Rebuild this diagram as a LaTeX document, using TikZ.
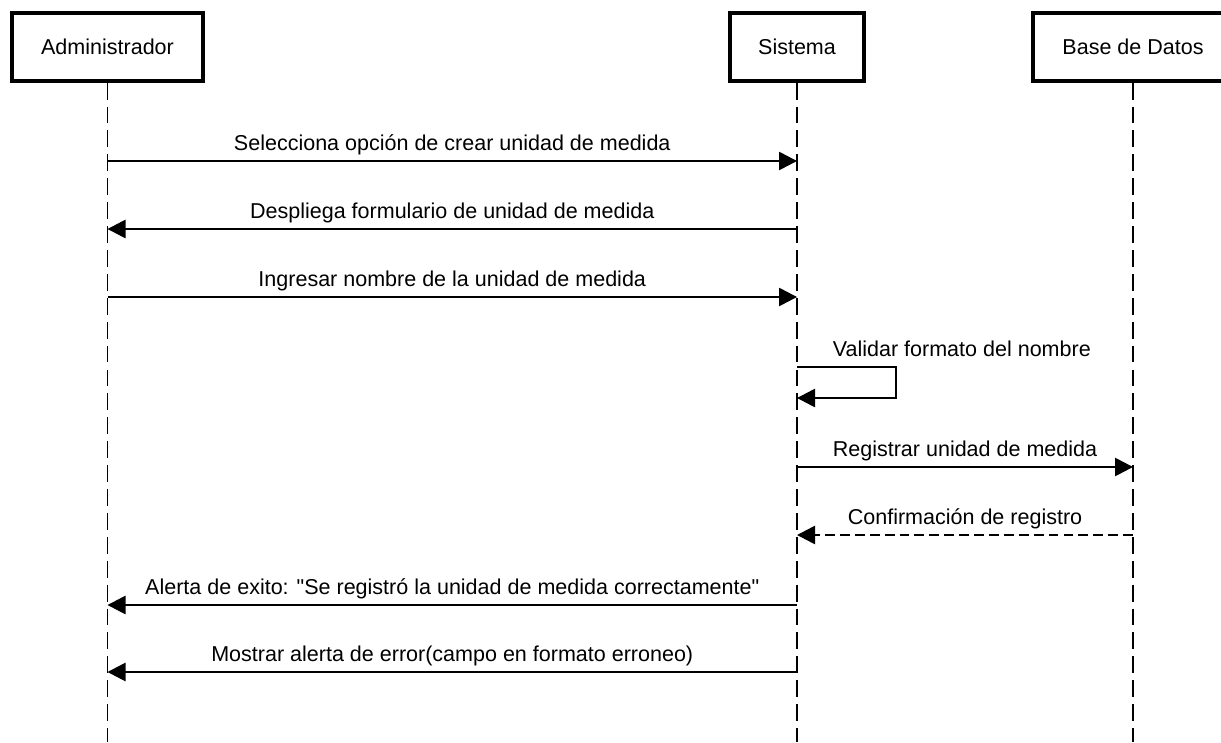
\documentclass[tikz,border=0pt]{standalone}
\usepackage{fontspec}
\setmainfont{Liberation Sans}[Ligatures=TeXOff]
\usetikzlibrary{arrows.meta}

\begin{document}
\begin{tikzpicture}[x=0.025cm, y=-0.025cm, font=\fontsize{15.3}{18}\selectfont,
  actor/.style={draw, line width=2.3pt, minimum height=48.4pt, inner sep=0pt},
  life/.style={line width=1.3pt, dash pattern=on 12pt off 5pt},
  msg/.style={line width=1.2pt, -{Triangle[length=12.8pt, width=13pt]}},
  lbl/.style={text depth=0pt, inner xsep=0pt, inner ysep=7.1pt}]
  \clip (0,0) rectangle (1221,742);

  % Actors
  \node[actor, minimum width=135.9pt] (adm) at (107.5,47) {Administrador};
  \node[actor, minimum width=95.3pt] (sis) at (797,47) {Sistema};
  \node[actor, minimum width=142.3pt] (bd) at (1133,47) {Base de Datos};

  % Lifelines
  \foreach \a in {adm, sis, bd}
    \draw[life] (\a.south) -- (\a.south |- 0,742);

  % Messages
  \foreach \y/\from/\to/\txt in {
    161/adm/sis/{Selecciona opción de crear unidad de medida},
    229/sis/adm/{Despliega formulario de unidad de medida},
    297/adm/sis/{Ingresar nombre de la unidad de medida},
    467/sis/bd/{Registrar unidad de medida},
    605/sis/adm/{Alerta de exito: "Se registró la unidad de medida correctamente"},
    672/sis/adm/{Mostrar alerta de error(campo en formato erroneo)}}
    \draw[msg] (\from |- 0,\y) -- node[lbl, above] {\txt} (\to |- 0,\y);

  % Self message
  \draw[msg] (sis |- 0,367) -- node[lbl, pos=0, anchor=south west, xshift=24.9pt] {Validar formato del nombre}
    (896,367) -- (896,398) -- (sis |- 0,398);

  % Reply
  \draw[msg, dash pattern=on 7pt off 3.6pt] (bd |- 0,535) -- node[lbl, above] {Confirmación de registro} (sis |- 0,535);
\end{tikzpicture}
\end{document}
